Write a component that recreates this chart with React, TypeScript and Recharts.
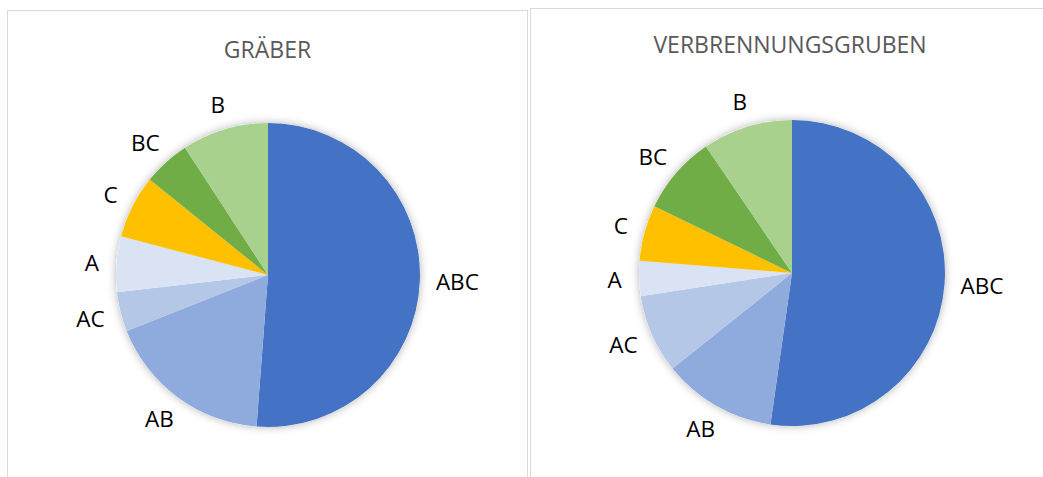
import { PieChart, Pie, Cell } from 'recharts'

const categories = ['ABC', 'AB', 'AC', 'A', 'C', 'BC', 'B']
const graeberValues = [51.2, 17.8, 4.2, 5.9, 6.7, 5.0, 9.2]
const gruebenValues = [52.2, 12.0, 8.3, 3.7, 5.9, 8.3, 9.5]

const sliceColors: Record<string, string> = {
  ABC: '#4472C4',
  AB: '#8FAADC',
  AC: '#B4C7E7',
  A: '#DAE3F3',
  C: '#FFC000',
  BC: '#70AD47',
  B: '#A9D18E',
}

const FONT = "'Open Sans', sans-serif"
const RADIAN = Math.PI / 180

// label outside the slice, pushed out by half its own box (like Excel's best fit)
const renderLabel = (props: any) => {
  const { cx, cy, midAngle, outerRadius, name } = props
  const dx = Math.cos(-midAngle * RADIAN)
  const dy = Math.sin(-midAngle * RADIAN)
  const w = String(name).length * 13
  const h = 16
  const r = outerRadius + 18
  const x = cx + dx * r + (dx * w) / 2
  const y = cy + dy * r + (dy * h) / 2
  return (
    <text
      x={x}
      y={y}
      textAnchor="middle"
      dominantBaseline="central"
      fill="#000000"
      fontSize={22.5}
      fontFamily={FONT}
    >
      {name}
    </text>
  )
}

interface PanelProps {
  title: string
  values: number[]
  left: number
  top: number
  width: number
  titleTop: number
  cx: number
  cy: number
  radius: number
}

function PiePanel({ title, values, left, top, width, titleTop, cx, cy, radius }: PanelProps) {
  const data = categories.map((name, i) => ({ name, value: values[i] }))
  const id = `shadow-${title}`
  return (
    <div
      style={{
        position: 'absolute',
        left,
        top,
        width,
        height: 500,
        border: '1px solid #d9d9d9',
        boxSizing: 'border-box',
        background: '#fff',
      }}
    >
      <div
        style={{
          position: 'absolute',
          left: 0,
          right: 0,
          top: titleTop,
          textAlign: 'center',
          fontFamily: FONT,
          fontSize: 23,
          lineHeight: '24px',
          color: '#595959',
        }}
      >
        {title}
      </div>
      <PieChart
        width={width - 2}
        height={480}
        margin={{ top: 0, right: 0, bottom: 0, left: 0 }}
        style={{ position: 'absolute', left: 0, top: 0 }}
      >
        <defs>
          <filter id={id} x="-20%" y="-20%" width="140%" height="140%">
            <feDropShadow dx="0" dy="0" stdDeviation="4" floodColor="#000" floodOpacity="0.3" />
          </filter>
        </defs>
        <Pie
          data={data}
          dataKey="value"
          nameKey="name"
          cx={cx}
          cy={cy}
          outerRadius={radius}
          startAngle={90}
          endAngle={-270}
          stroke="none"
          isAnimationActive={false}
          label={false}
        >
          {data.map((d) => (
            <Cell key={d.name} fill="#ffffff" filter={`url(#${id})`} />
          ))}
        </Pie>
        <Pie
          data={data}
          dataKey="value"
          nameKey="name"
          cx={cx}
          cy={cy}
          outerRadius={radius}
          startAngle={90}
          endAngle={-270}
          stroke="none"
          isAnimationActive={false}
          label={renderLabel}
          labelLine={false}
        >
          {data.map((d) => (
            <Cell key={d.name} fill={sliceColors[d.name]} />
          ))}
        </Pie>
      </PieChart>
    </div>
  )
}

export default function App() {
  return (
    <div
      style={{
        position: 'absolute',
        left: 0,
        top: 0,
        width: 1043,
        height: 477,
        overflow: 'hidden',
        background: '#fff',
      }}
    >
      <PiePanel
        title="GRÄBER"
        values={graeberValues}
        left={7}
        top={10}
        width={521}
        titleTop={26}
        cx={260}
        cy={264}
        radius={152}
      />
      <PiePanel
        title="VERBRENNUNGSGRUBEN"
        values={gruebenValues}
        left={530}
        top={8}
        width={520}
        titleTop={23}
        cx={261}
        cy={264}
        radius={153}
      />
    </div>
  )
}
